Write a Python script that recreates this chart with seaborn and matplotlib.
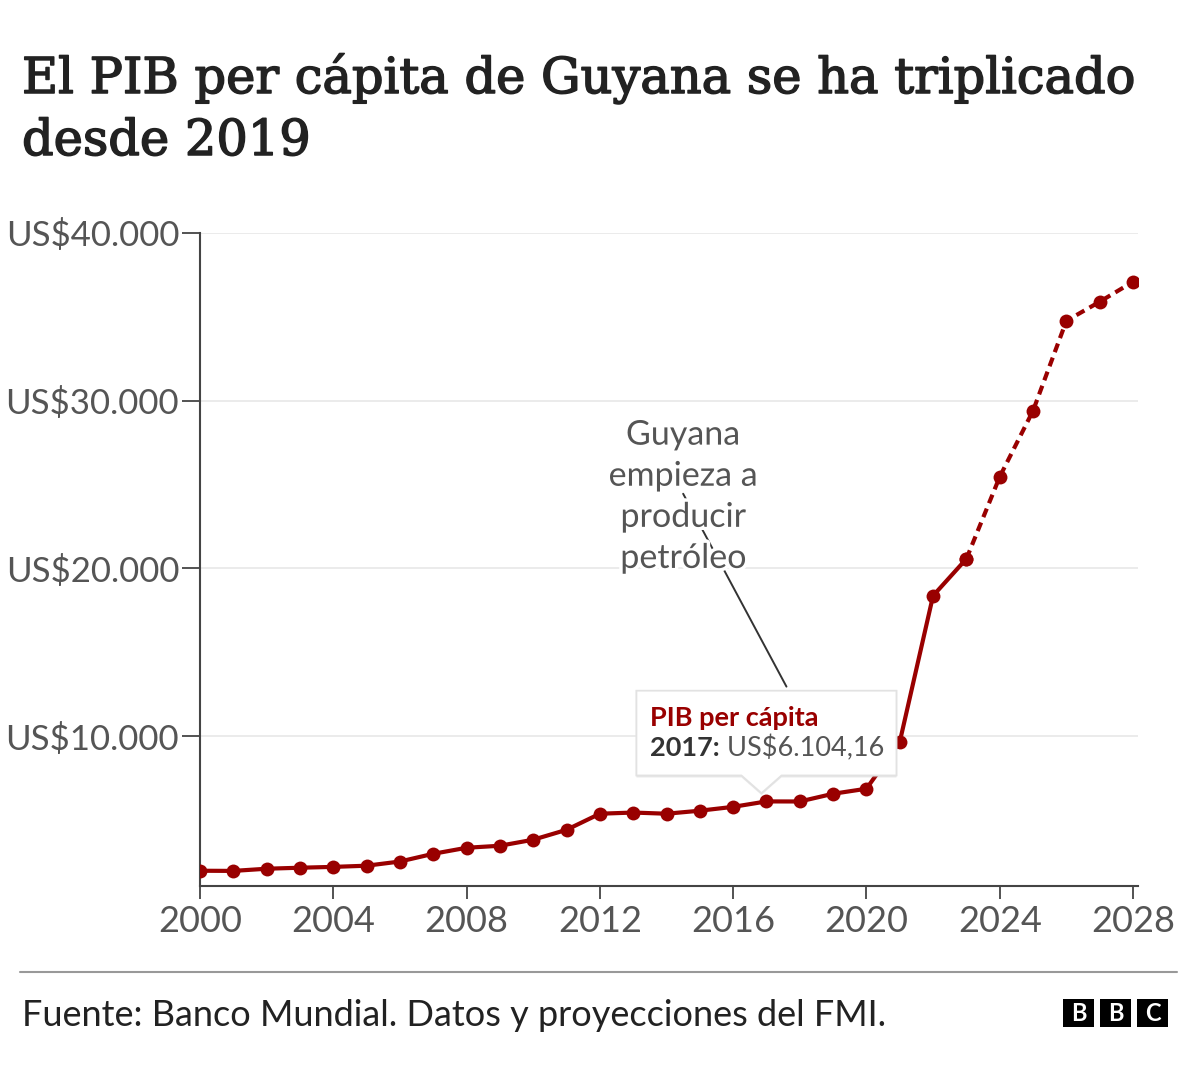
import matplotlib.pyplot as plt
import matplotlib.patheffects as pe
from matplotlib.patches import Rectangle, Polygon
import seaborn as sns
import pandas as pd

# Datos: PIB per cápita de Guyana (US$), reales y proyecciones
anios_reales = [2000, 2001, 2002, 2003, 2004, 2005, 2006, 2007, 2008, 2009, 2010, 2011,
                2012, 2013, 2014, 2015, 2016, 2017, 2018, 2019, 2020, 2021, 2022, 2023]
pib_real = [1970, 1960, 2090, 2150, 2200, 2270, 2520, 2980, 3340, 3460, 3820, 4410,
            5370, 5440, 5370, 5550, 5780, 6104.16, 6100, 6560, 6860, 9650, 18370, 20570]
anios_proy = [2023, 2024, 2025, 2026, 2027, 2028]
pib_proy = [20570, 25460, 29400, 34760, 35900, 37090]
xticks = [2000, 2004, 2008, 2012, 2016, 2020, 2024, 2028]
yticks = [10000, 20000, 30000, 40000]
ytick_labels = ['US$10.000', 'US$20.000', 'US$30.000', 'US$40.000']

df_real = pd.DataFrame({'anio': anios_reales, 'pib': pib_real})
df_proy = pd.DataFrame({'anio': anios_proy, 'pib': pib_proy})

sns.set_theme(style='white')
plt.rcParams['font.family'] = ['Lato', 'DejaVu Sans']

ROJO = '#990000'
GRIS = '#555555'

fig = plt.figure(figsize=(12, 10.67), dpi=100)
ax = fig.add_axes([200 / 1200, 181 / 1067, 938 / 1200, 653 / 1067])

sns.lineplot(data=df_real, x='anio', y='pib', ax=ax, color=ROJO, linewidth=3,
             marker='o', markersize=10, markeredgewidth=0, zorder=3)
sns.lineplot(data=df_proy, x='anio', y='pib', ax=ax, color=ROJO, linewidth=3,
             linestyle=(0, (2.2, 1.4)), marker='o', markersize=10, markeredgewidth=0,
             zorder=3)

ax.set_xlim(2000, 2028.15)
ax.set_ylim(1060, 40000)
ax.set_xticks(xticks)
ax.set_yticks(yticks)
ax.set_yticklabels(ytick_labels)
ax.set_xlabel('')
ax.set_ylabel('')
ax.grid(axis='y', color='#e8e8e8', linewidth=1.2)
ax.set_axisbelow(True)
for s in ['top', 'right']:
    ax.spines[s].set_visible(False)
for s in ['left', 'bottom']:
    ax.spines[s].set_color('#444444')
    ax.spines[s].set_linewidth(1.5)
ax.tick_params(axis='x', length=9, width=1.3, color='#444444', labelsize=26,
               labelcolor=GRIS, pad=5, bottom=True)
ax.tick_params(axis='y', length=13, width=1.3, color='#444444', labelsize=25,
               labelcolor=GRIS, pad=2, left=True)

# Anotación
ax.plot([2014.5, 2017.6], [24450, 12950], color='#333333', linewidth=1.4, zorder=4)
ax.text(2014.5, 24300, 'Guyana\nempieza a\nproducir\npetróleo', ha='center', va='center',
        fontsize=24.5, color=GRIS, linespacing=1.35, zorder=5,
        path_effects=[pe.withStroke(linewidth=5, foreground='white')])

# Tooltip 2017
x17 = anios_reales[17]
v17 = pib_real[17]
x0, x1 = x17 - 3.9, x17 + 3.9
y0, y1 = v17 + 1550, v17 + 6600
caja = Polygon([[x0, y0], [x17 - 0.75, y0], [x17 - 0.15, v17 + 500], [x17 + 0.45, y0],
                [x1, y0], [x1, y1], [x0, y1]], closed=True, facecolor='white',
               edgecolor='#e2e2e2', linewidth=1.2, zorder=6,
               path_effects=[pe.withSimplePatchShadow(offset=(0, -1.5),
                                                      shadow_rgbFace='#bbbbbb', alpha=0.3),
                             pe.Normal()])
ax.add_patch(caja)
ax.text(x17 - 3.5, v17 + 5000, 'PIB per cápita', fontsize=19.5, color=ROJO,
        fontweight='bold', va='center', zorder=7)
t1 = ax.text(x17 - 3.5, v17 + 3200, '2017:', fontsize=19.5, color='#333333',
             fontweight='bold', va='center', zorder=7)
ax.annotate(' US$6.104,16', xycoords=t1, xy=(1, 0.5), va='center', fontsize=19.5,
            color=GRIS, zorder=7)

# Título
grosor = [pe.withStroke(linewidth=1.1, foreground='#222222')]
fig.text(22 / 1200, 1 - 93 / 1067, 'El PIB per cápita de Guyana se ha triplicado',
         fontsize=35.6, family='DejaVu Serif', color='#222222', va='baseline', ha='left',
         path_effects=grosor)
fig.text(22 / 1200, 1 - 155 / 1067, 'desde 2019',
         fontsize=35.6, family='DejaVu Serif', color='#222222', va='baseline', ha='left',
         path_effects=grosor)

# Pie
fig.add_artist(plt.Line2D([20 / 1200, 1177 / 1200], [1 - 972 / 1067, 1 - 972 / 1067],
                          color='#999999', linewidth=1.5))
fig.text(22 / 1200, 1 - 1016 / 1067, 'Fuente: Banco Mundial. Datos y proyecciones del FMI.',
         fontsize=26, color='#222222', va='center', ha='left')
for i, letra in enumerate('BBC'):
    bx = (1063 + i * 37) / 1200
    fig.patches.append(Rectangle((bx, 1 - 1027 / 1067), 31 / 1200, 28 / 1067,
                                 transform=fig.transFigure, facecolor='black',
                                 edgecolor='none'))
    fig.text(bx + 15.5 / 1200, 1 - 1013.5 / 1067, letra, color='white', fontsize=17,
             fontweight='bold', ha='center', va='center')

plt.savefig('out.png', dpi=100)
